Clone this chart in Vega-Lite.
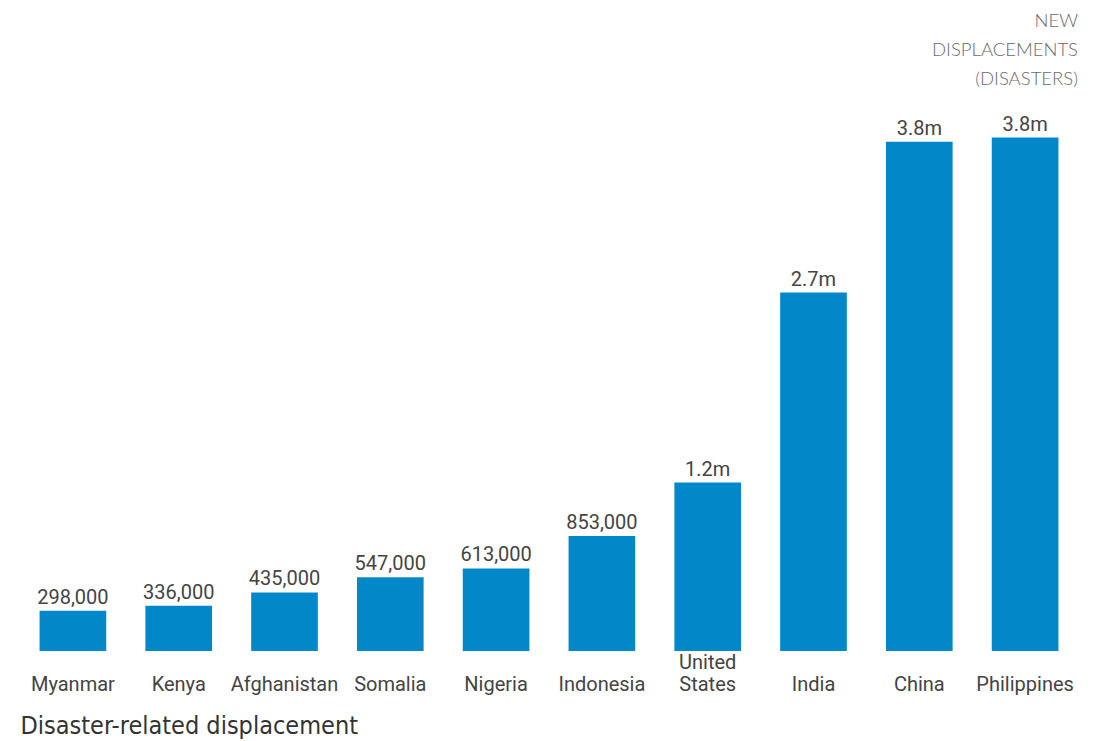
{
  "$schema": "https://vega.github.io/schema/vega-lite/v6.json",
  "width": 1058,
  "height": 539,
  "autosize": "none",
  "padding": {"left": 20, "top": 112, "right": 23, "bottom": 90},
  "background": "white",
  "title": {
    "text": ["NEW", "DISPLACEMENTS", "(DISASTERS)"],
    "anchor": "end",
    "orient": "top",
    "align": "right",
    "font": "Lato",
    "fontWeight": 300,
    "fontSize": 18.5,
    "lineHeight": 29,
    "color": "#6a6a6a",
    "offset": 24
  },
  "data": {
    "values": [
      {"country": "Myanmar", "value": 298000, "label": "298,000"},
      {"country": "Kenya", "value": 336000, "label": "336,000"},
      {"country": "Afghanistan", "value": 435000, "label": "435,000"},
      {"country": "Somalia", "value": 547000, "label": "547,000"},
      {"country": "Nigeria", "value": 613000, "label": "613,000"},
      {"country": "Indonesia", "value": 853000, "label": "853,000"},
      {"country": "United States", "value": 1250000, "label": "1.2m"},
      {"country": "India", "value": 2660000, "label": "2.7m"},
      {"country": "China", "value": 3780000, "label": "3.8m"},
      {"country": "Philippines", "value": 3810000, "label": "3.8m"}
    ]
  },
  "encoding": {
    "x": {
      "field": "country",
      "type": "nominal",
      "sort": null,
      "scale": {"paddingInner": 0.37, "paddingOuter": 0.185},
      "axis": {
        "title": "Disaster-related displacement",
        "titleAnchor": "start",
        "titleAlign": "left",
        "titleFont": "'Liberation Sans Narrow', 'DejaVu Sans Condensed', Roboto",
        "titleFontSize": 25,
        "titleFontWeight": "normal",
        "titleColor": "#333333",
        "titlePadding": 19,
        "labelAngle": 0,
        "labelFont": "Roboto",
        "labelFontSize": 20,
        "labelColor": "#444444",
        "labelBaseline": "top",
        "labelLineHeight": 22,
        "labelPadding": 1,
        "labelExpr": "datum.value == 'United States' ? ['United', 'States'] : ['', datum.value]",
        "domain": false,
        "ticks": false,
        "grid": false
      }
    },
    "y": {
      "field": "value",
      "type": "quantitative",
      "scale": {"domain": [0, 4000000]},
      "axis": null
    }
  },
  "layer": [
    {"mark": {"type": "bar", "color": "#0288c9"}},
    {
      "mark": {
        "type": "text",
        "baseline": "alphabetic",
        "dy": -7,
        "font": "Roboto",
        "fontSize": 20,
        "color": "#444444"
      },
      "encoding": {"text": {"field": "label", "type": "nominal"}}
    }
  ],
  "config": {"view": {"stroke": null}}
}
